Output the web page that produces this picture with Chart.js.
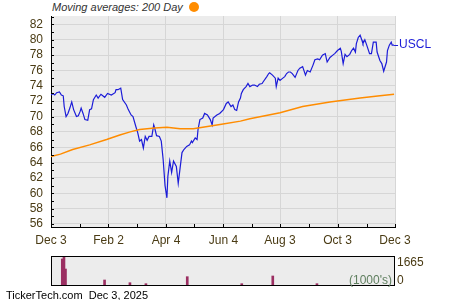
<!DOCTYPE html>
<html>
<head>
<meta charset="utf-8">
<script src="https://cdn.jsdelivr.net/npm/chart.js@4.4.1/dist/chart.umd.min.js"></script>
<style>
    body { margin: 0; background: #fff; width: 450px; height: 300px; position: relative; overflow: hidden; font-family: "Liberation Sans", Arial, sans-serif; }
    #principal { position: absolute; left: 0; top: 0; }
    #volume { position: absolute; left: 0; top: 250px; }
    #titre { position: absolute; left: 52px; top: 0px; font-style: italic; font-size: 11px; line-height: 14px; color: #333; }
    #pastille { display: inline-block; width: 10px; height: 10px; border-radius: 50%; background: #ff8c00; margin-left: 6px; vertical-align: -1px; }
    #pied { position: absolute; left: 6px; top: 288px; font-size: 11px; line-height: 14px; color: #000; }
</style>
</head>
<body>
<div id="titre">Moving averages: 200 Day<span id="pastille"></span></div>
<canvas id="principal" width="450" height="250"></canvas>
<canvas id="volume" width="450" height="40"></canvas>
<div id="pied">TickerTech.com&nbsp;&nbsp;Dec 3, 2025</div>
<script>
// jours écoulés depuis le 3 déc. 2024
var jours = [0, 2, 4, 6, 9, 11, 13, 14, 16, 18, 20, 22, 24, 27, 29, 31, 32, 34, 36, 39,
    41, 43, 45, 48, 50, 53, 57, 60, 64, 68, 69, 71, 74, 76, 80, 82, 85, 87, 90, 92,
    94, 96, 98, 100, 102, 104, 107, 109, 110, 112, 115, 117, 119, 121, 123, 124, 126, 128, 130, 133,
    135, 137, 139, 141, 144, 147, 149, 150, 153, 155, 156, 158, 161, 163, 166, 169, 171, 172, 176, 179,
    183, 186, 188, 191, 193, 195, 197, 199, 201, 202, 204, 207, 209, 211, 214, 216, 219, 221, 224, 225,
    229, 231, 232, 235, 238, 239, 241, 243, 246, 248, 250, 252, 254, 256, 259, 262, 264, 267, 270, 272,
    275, 278, 280, 283, 285, 288, 291, 293, 296, 299, 301, 304, 307, 308, 310, 312, 314, 317, 319, 321,
    323, 324, 326, 328, 330, 331, 333, 335, 338, 340, 342, 345, 346, 349, 351, 353, 356, 357, 359, 361,
    362, 364];
var cours = [72.8, 73.0, 72.8, 73.1, 73.2, 72.8, 72.7, 71.3, 70.0, 70.4, 71.1, 71.9, 70.9, 70.0, 70.1, 70.7, 71.1, 70.4, 69.6, 69.5,
    70.9, 71.0, 72.2, 72.8, 72.4, 72.9, 72.5, 73.0, 72.8, 73.1, 73.5, 73.5, 73.7, 72.2, 71.5, 70.9, 70.2, 70.0, 68.7, 67.9,
    66.8, 67.0, 65.9, 67.4, 66.9, 67.4, 67.4, 68.9, 68.5, 67.5, 67.4, 66.8, 64.4, 61.0, 59.4, 62.2, 64.2, 62.7, 64.2, 63.5,
    61.3, 63.3, 65.3, 65.7, 66.1, 66.3, 66.8, 66.6, 67.2, 67.0, 68.3, 69.6, 69.8, 70.4, 70.2, 69.6, 68.9, 69.8, 70.2, 70.4,
    70.9, 71.7, 71.9, 71.3, 71.5, 70.9, 70.8, 71.9, 72.4, 73.0, 73.5, 73.9, 74.3, 73.9, 74.1, 74.1, 73.9, 74.2, 74.3, 74.5,
    75.2, 75.6, 75.7, 75.4, 75.0, 73.9, 75.0, 74.7, 75.0, 75.2, 75.6, 75.8, 75.8, 75.6, 75.1, 76.0, 76.3, 76.5, 75.4, 76.0,
    75.8, 76.7, 77.4, 77.5, 77.4, 78.0, 78.2, 77.1, 77.7, 78.0, 78.2, 78.6, 78.9, 78.5, 76.9, 78.1, 77.8, 78.1, 78.6, 78.9,
    78.4, 79.5, 80.3, 80.6, 79.9, 79.5, 80.0, 79.3, 78.2, 78.2, 79.7, 79.7, 78.4, 77.3, 76.9, 75.9, 77.1, 78.6, 79.3, 79.7,
    79.3, 79.3];

// moyenne mobile 200 jours
var joursMoyenne = [0, 10, 23, 41, 59, 73, 84, 94, 110, 123, 137, 151, 161, 181, 201, 211, 243, 267, 296, 328, 349, 364];
var moyenne = [64.8, 65.1, 65.7, 66.3, 67.0, 67.6, 68.0, 68.3, 68.5, 68.6, 68.4, 68.4, 68.6, 69.0, 69.4, 69.7, 70.5, 71.3, 71.9, 72.4, 72.7, 72.9];

// volumes (milliers)
var joursVolume = [12, 15.4, 13.8, 57, 84, 101, 145, 203, 236, 283];
var volumes = [1493, 918, 1665, 287, 132, 75, 477, 75, 517, 75];

// graduations de l'axe des dates
var joursMois = [0, 31, 61, 91, 122, 152, 183, 213, 243, 274, 304, 335, 365];
var etiquettesMois = ['Dec 3', '', 'Feb 2', '', 'Apr 4', '', 'Jun 4', '', 'Aug 3', '', 'Oct 3', '', 'Dec 3'];
var valeursY = [56, 57, 58, 59, 60, 61, 62, 63, 64, 65, 66, 67, 68, 69, 70, 71, 72, 73, 74, 75, 76, 77, 78, 79, 80, 81, 82, 83];

var couleurTexte = '#4a3b14';
var police = { family: '"Liberation Sans", Arial, sans-serif', size: 12 };

// fond gris de la zone de tracé
var fond = {
    id: 'fond',
    beforeDraw: function (chart) {
        var a = chart.chartArea, c = chart.ctx;
        c.save();
        c.fillStyle = '#ececec';
        c.fillRect(a.left, a.top, a.right - a.left, a.bottom - a.top);
        c.restore();
    }
};

// petites graduations vers l'intérieur
var graduations = {
    id: 'graduations',
    afterDraw: function (chart) {
        var a = chart.chartArea, c = chart.ctx;
        c.save();
        c.strokeStyle = '#000';
        c.lineWidth = 1;
        c.beginPath();
        chart.scales.x.ticks.forEach(function (t) {
            var x = Math.round(chart.scales.x.getPixelForValue(t.value)) + 0.5;
            c.moveTo(x, a.bottom);
            c.lineTo(x, a.bottom - 3);
        });
        chart.scales.y.ticks.forEach(function (t) {
            var y = Math.round(chart.scales.y.getPixelForValue(t.value)) + 0.5;
            c.moveTo(a.left, y);
            c.lineTo(a.left + 3, y);
        });
        c.stroke();
        c.restore();
    }
};

// nom du titre au bout de la courbe
var etiquette = {
    id: 'etiquette',
    afterDraw: function (chart) {
        var meta = chart.getDatasetMeta(1);
        var p = meta.data[meta.data.length - 1];
        var c = chart.ctx;
        c.save();
        c.strokeStyle = '#1c1cd8';
        c.beginPath();
        c.moveTo(p.x, Math.round(p.y) + 0.5);
        c.lineTo(p.x + 4, Math.round(p.y) + 0.5);
        c.stroke();
        c.fillStyle = '#1c1cd8';
        c.font = '12px "Liberation Sans", Arial, sans-serif';
        c.textBaseline = 'middle';
        c.fillText('USCL', p.x + 5, p.y);
        c.restore();
    }
};

new Chart(document.getElementById('principal'), {
    type: 'line',
    data: {
        datasets: [{
            label: '200 Day',
            data: joursMoyenne.map(function (j, i) { return { x: j, y: moyenne[i] }; }),
            borderColor: '#ff8c00',
            borderWidth: 1.5,
            pointRadius: 0
        }, {
            label: 'USCL',
            data: jours.map(function (j, i) { return { x: j, y: cours[i] }; }),
            borderColor: '#1c1cd8',
            borderWidth: 1.2,
            pointRadius: 0
        }]
    },
    options: {
        responsive: false,
        animation: false,
        layout: { padding: { left: 0, right: 55, top: 16, bottom: 0 } },
        plugins: { legend: { display: false }, tooltip: { enabled: false } },
        scales: {
            x: {
                type: 'linear',
                min: 0,
                max: 365,
                afterBuildTicks: function (s) { s.ticks = joursMois.map(function (v) { return { value: v }; }); },
                afterFit: function (s) { s.height = 23; },
                ticks: {
                    autoSkip: false, maxRotation: 0, padding: 6, color: couleurTexte, font: police,
                    callback: function (v, i) { return etiquettesMois[i]; }
                },
                grid: {
                    drawTicks: false,
                    color: function (ctx) { return etiquettesMois[ctx.index] ? '#d6d6d6' : 'rgba(0,0,0,0)'; }
                },
                border: { color: '#000', width: 1 }
            },
            y: {
                min: 55.6,
                max: 83.1,
                afterBuildTicks: function (s) { s.ticks = valeursY.map(function (v) { return { value: v }; }); },
                afterFit: function (s) { s.width = 51; },
                ticks: {
                    autoSkip: false, padding: 8, color: couleurTexte, font: police,
                    callback: function (v) { return v % 2 === 0 ? String(v) : ''; }
                },
                grid: {
                    drawTicks: false,
                    color: function (ctx) { return ctx.tick && ctx.tick.value % 2 === 0 ? '#d6d6d6' : 'rgba(0,0,0,0)'; }
                },
                border: { color: '#000', width: 1 }
            }
        }
    },
    plugins: [fond, graduations, etiquette]
});

// cadre et libellés du graphique des volumes
var cadreVolume = {
    id: 'cadreVolume',
    afterDraw: function (chart) {
        var a = chart.chartArea, c = chart.ctx, ys = chart.scales.y;
        c.save();
        c.strokeStyle = '#000';
        c.lineWidth = 1;
        c.strokeRect(a.left + 0.5, a.top + 0.5, a.right - a.left, a.bottom - a.top);
        c.font = '12px "Liberation Sans", Arial, sans-serif';
        c.textBaseline = 'middle';
        c.fillStyle = couleurTexte;
        c.fillText('1665', a.right + 3, ys.getPixelForValue(1665) + 7);
        c.fillText('0', a.right + 3, ys.getPixelForValue(0) - 4);
        c.fillStyle = '#5f7f5f';
        c.textAlign = 'right';
        c.fillText("(1000's)", a.right - 2, ys.getPixelForValue(0) - 4);
        c.restore();
    }
};

new Chart(document.getElementById('volume'), {
    type: 'bar',
    data: {
        datasets: [{
            data: joursVolume.map(function (j, i) { return { x: j, y: volumes[i] }; }),
            backgroundColor: '#9b2f62',
            barThickness: 2,
            grouped: false
        }]
    },
    options: {
        responsive: false,
        animation: false,
        layout: { padding: { left: 51, right: 56, top: 6, bottom: 5 } },
        plugins: { legend: { display: false }, tooltip: { enabled: false } },
        scales: {
            x: { type: 'linear', min: 0, max: 365, offset: false, display: false },
            y: { min: 0, max: 1665, display: false }
        }
    },
    plugins: [fond, cadreVolume]
});
</script>
</body>
</html>
